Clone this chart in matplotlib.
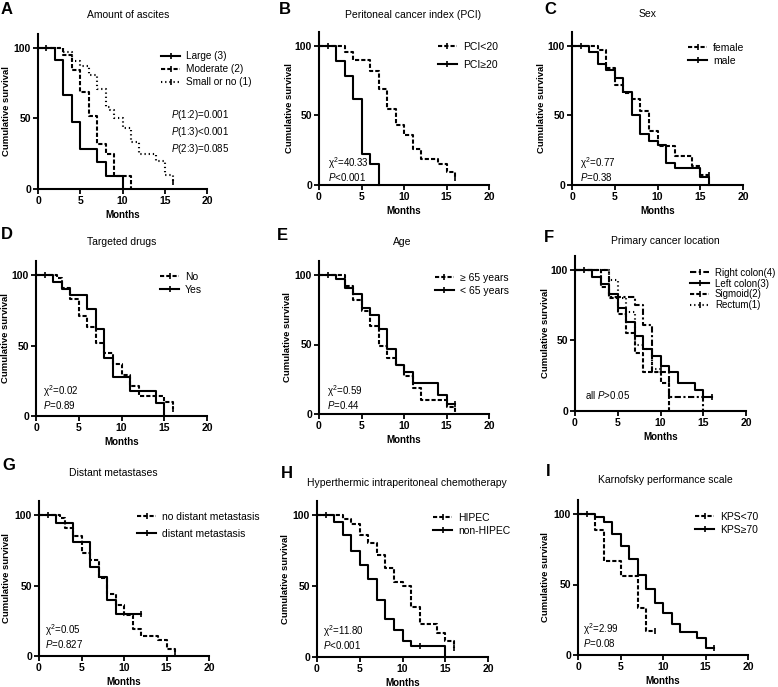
import numpy as np
import matplotlib
matplotlib.use("Agg")
from matplotlib import pyplot as plt
from matplotlib.lines import Line2D

plt.rcParams['font.family'] = ['Liberation Sans', 'DejaVu Sans']
plt.rcParams['mathtext.fontset'] = 'custom'
plt.rcParams['mathtext.rm'] = 'Liberation Sans'
plt.rcParams['mathtext.it'] = 'Liberation Sans:italic'

W, H = 778, 687

# ---- data (months, cumulative survival %) ----
A_LARGE_T = [0, 2, 3, 4, 5, 7, 8, 10]
A_LARGE_S = [100, 91.7, 66.7, 47.6, 28.6, 19.0, 9.5, 0]
A_MOD_T = [0, 3, 4, 5, 6, 7, 8, 9, 11]
A_MOD_S = [100, 95, 84.6, 68.5, 51.5, 32, 25, 9, 0]
A_SMALL_T = [0, 3, 4, 5, 6, 7, 8, 8.5, 9, 10, 11, 12, 14, 15, 16]
A_SMALL_S = [100, 97, 91, 87.5, 81, 71, 58, 56, 50, 43, 33, 25, 20, 10, 5]

B_LO_T = [0, 3, 4, 6, 7, 8, 9, 10, 11, 12, 14, 15, 16]
B_LO_S = [100, 96, 90, 82, 69, 55, 43, 36, 26, 19, 15, 9, 5]
B_HI_T = [0, 2, 3, 4, 5, 6, 7]
B_HI_S = [100, 89, 78.5, 62, 22.5, 15, 0]

C_FEMALE_T = [0, 3, 4, 5, 6, 7, 8, 9, 10, 12, 14, 15, 16]
C_FEMALE_S = [100, 97, 84, 72, 66, 62, 53, 39, 28, 21, 14, 7, 7]
C_MALE_T = [0, 2, 3, 4, 5, 6, 7, 8, 9, 10, 11, 12, 15, 16]
C_MALE_S = [100, 96, 87, 83, 77, 67, 50, 37, 32, 29, 16, 12, 6, 0]

D_NO_T = [0, 2.5, 3, 4, 5, 6, 7, 8, 9, 10, 11, 12, 15, 16]
D_NO_S = [100, 98, 91, 83, 71, 63, 52, 45, 37, 29, 21, 14, 10, 5]
D_YES_T = [0, 2, 3, 4, 6, 7, 8, 9, 11, 14, 15]
D_YES_S = [100, 95, 90, 86, 76, 62, 41, 28, 18, 9, 0]

E_GE65_T = [0, 3, 4, 5, 6, 7, 8, 9, 10, 11, 12, 15, 16]
E_GE65_S = [100, 92, 82, 74, 63, 49, 40, 35, 27, 19, 10, 5, 0]
E_LT65_T = [0, 2, 3, 4, 5, 6, 7, 8, 9, 10, 11, 14, 15, 16]
E_LT65_S = [100, 97, 91, 86, 76, 71, 61, 47, 35, 30, 22, 14, 7, 7]

F_RIGHT_T = [0, 4, 7, 8, 9, 11, 15]
F_RIGHT_S = [100, 81, 75, 61, 28, 10, 0]
F_LEFT_T = [0, 2, 3, 4, 5, 6, 7, 8, 9, 10, 11, 12, 14, 15, 16]
F_LEFT_S = [100, 95, 90, 83, 73, 63, 53, 44, 39, 32, 28, 20, 15, 10, 10]
F_SIG_T = [0, 3, 4, 5, 6, 7, 8, 10, 11]
F_SIG_S = [100, 88, 80, 69, 55, 41, 28, 20, 0]
F_RECT_T = [0, 4, 5, 6, 7, 8, 9, 10]
F_RECT_S = [100, 93, 80, 70, 47, 44, 30, 30]

G_NODM_T = [0, 2.5, 3, 4, 5, 6, 7, 8, 9, 10, 11, 12, 14, 15, 16]
G_NODM_S = [100, 98, 91, 85, 73, 68, 55, 44, 36, 29, 19, 14, 11, 5, 3]
G_DM_T = [0, 2, 4, 6, 7, 8, 9, 12]
G_DM_S = [100, 94, 81, 63, 56, 40, 30, 30]

H_HIPEC_T = [0, 3, 4, 5, 6, 7, 8, 9, 10, 11, 12, 14, 15, 16]
H_HIPEC_S = [100, 97, 94, 86, 80, 72, 63, 53, 50, 35, 23, 17, 11, 6]
H_NON_T = [0, 2, 3, 4, 5, 6, 7, 8, 9, 10, 11, 15]
H_NON_S = [100, 95, 86, 75, 65, 55, 40, 27, 19, 11, 8, 0]

I_LO_T = [0, 2, 3, 5, 7, 8, 9]
I_LO_S = [100, 89, 67, 56, 33, 17, 17]
I_HI_T = [0, 2, 3, 4, 5, 6, 7, 8, 9, 10, 11, 12, 14, 15, 16]
I_HI_S = [100, 98, 94, 86, 77, 68, 57, 47, 37, 30, 22, 16, 12, 5, 5]

DASH = (0, (2, 1))
DOT = (0, (0.6, 1.4))
DASHDOT = (0, (3, 1.2, 1, 1.2))
SOLID = '-'

# panel: letter, title, series [(t, s, style, label, censored times)], note lines
PANELS = [
    dict(letter='A', title='Amount of ascites',
         series=[(A_LARGE_T, A_LARGE_S, SOLID, 'Large (3)', []),
                 (A_MOD_T, A_MOD_S, DASH, 'Moderate (2)', []),
                 (A_SMALL_T, A_SMALL_S, DOT, 'Small or no (1)', [1, 16])],
         notes=['$\\mathit{P}$(1:2)=0.001', '$\\mathit{P}$(1:3)<0.001', '$\\mathit{P}$(2:3)=0.085']),
    dict(letter='B', title='Peritoneal cancer index (PCI)',
         series=[(B_LO_T, B_LO_S, DASH, 'PCI<20', [1, 16]),
                 (B_HI_T, B_HI_S, SOLID, 'PCI≥20', [])],
         notes=['χ$^{2}$=40.33', '$\\mathit{P}$<0.001']),
    dict(letter='C', title='Sex',
         series=[(C_FEMALE_T, C_FEMALE_S, DASH, 'female', [16]),
                 (C_MALE_T, C_MALE_S, SOLID, 'male', [1])],
         notes=['χ$^{2}$=0.77', '$\\mathit{P}$=0.38']),
    dict(letter='D', title='Targeted drugs',
         series=[(D_NO_T, D_NO_S, DASH, 'No', [16]),
                 (D_YES_T, D_YES_S, SOLID, 'Yes', [1])],
         notes=['χ$^{2}$=0.02', '$\\mathit{P}$=0.89']),
    dict(letter='E', title='Age',
         series=[(E_GE65_T, E_GE65_S, DASH, '≥ 65 years', []),
                 (E_LT65_T, E_LT65_S, SOLID, '< 65 years', [1, 16])],
         notes=['χ$^{2}$=0.59', '$\\mathit{P}$=0.44']),
    dict(letter='F', title='Primary cancer location',
         series=[(F_RIGHT_T, F_RIGHT_S, DASHDOT, 'Right colon(4)', []),
                 (F_LEFT_T, F_LEFT_S, SOLID, 'Left colon(3)', [1, 16]),
                 (F_SIG_T, F_SIG_S, DASH, 'Sigmoid(2)', []),
                 (F_RECT_T, F_RECT_S, DOT, 'Rectum(1)', [10])],
         notes=['all $\\mathit{P}$>0.05']),
    dict(letter='G', title='Distant metastases',
         series=[(G_NODM_T, G_NODM_S, DASH, 'no distant metastasis', [16]),
                 (G_DM_T, G_DM_S, SOLID, 'distant metastasis', [1, 12])],
         notes=['χ$^{2}$=0.05', '$\\mathit{P}$=0.827']),
    dict(letter='H', title='Hyperthermic intraperitoneal chemotherapy',
         series=[(H_HIPEC_T, H_HIPEC_S, DASH, 'HIPEC', [16]),
                 (H_NON_T, H_NON_S, SOLID, 'non-HIPEC', [1, 12])],
         notes=['χ$^{2}$=11.80', '$\\mathit{P}$<0.001']),
    dict(letter='I', title='Karnofsky performance scale',
         series=[(I_LO_T, I_LO_S, DASH, 'KPS<70', [9]),
                 (I_HI_T, I_HI_S, SOLID, 'KPS≥70', [1, 16])],
         notes=['χ$^{2}$=2.99', '$\\mathit{P}$=0.08']),
]

# layout in pixels: x of 0 and 20 months, y of 0 and 100 %
AX_PX = [(38, 207, 189, 48), (319, 489, 185, 46), (572, 743, 185, 46),
         (36, 207, 416, 275), (319, 489, 414, 275), (575, 746, 411, 270),
         (39, 209, 656, 515), (317, 488, 657, 515), (578, 748, 655, 514)]
YLABEL_X = [7, 290, 541, 6, 288, 545, 7, 285, 545]
LETTER_PX = [(1, 9), (279, 10), (544, 9), (1, 235), (277, 236), (544, 237),
             (2, 466), (281, 473), (546, 471)]
TITLE_PX = [(128, 15), (413, 15), (648, 14), (122, 242), (402, 242), (665, 241),
            (113, 473), (407, 483), (665, 480)]
# legend: line start x, first row y, row spacing, font size
LEG_PX = [(161, 55, 14.5, 7.2), (438, 46, 20, 7.5), (688, 47, 15, 7.5),
          (160, 276, 15, 7.5), (435, 277, 15, 7.5), (690, 271, 12, 7),
          (137, 516, 19, 7.5), (433, 517, 15, 7.5), (695, 516, 15, 7.5)]
# notes: block centre pixel position, line spacing factor
NOTE_PX = [(171, 132, 1.35), (328, 169, 1.0), (580, 169, 1.0), (43, 397, 1.0),
           (327, 397, 1.0), (585, 395, 1.0), (45, 636, 1.05), (323, 637, 1.05),
           (583, 635, 1.05)]

fig = plt.figure(figsize=(W / 100, H / 100), dpi=100)


def step_value(t, s, x):
    i = np.searchsorted(t, x, side='right') - 1
    return s[max(i, 0)]


for k, p in enumerate(PANELS):
    x0, x20, y0, y100 = AX_PX[k]
    h = (y0 - y100) * 1.1
    axw = x20 - x0
    ax = fig.add_axes([x0 / W, 1 - y0 / H, axw / W, h / H])
    handles, labels = [], []
    for t, s, ls, lab, cens in p['series']:
        ax.step(t, s, where='post', color='k', lw=1.5, ls=ls, clip_on=False)
        if cens:
            cy = [step_value(t, s, c) for c in cens]
            ax.plot(cens, cy, ls='none', marker='|', ms=4, mew=1.2, color='k', clip_on=False)
        handles.append(Line2D([], [], color='k', lw=1.5, ls=ls, marker='|', ms=4, mew=1.2))
        labels.append(lab)
    ax.set_xlim(0, 20)
    ax.set_ylim(0, 110)
    ax.set_xticks([0, 5, 10, 15, 20])
    ax.set_yticks([0, 50, 100])
    for sp in ['top', 'right']:
        ax.spines[sp].set_visible(False)
    for sp in ['left', 'bottom']:
        ax.spines[sp].set_linewidth(1.5)
    ax.tick_params(direction='out', length=3.5, width=1.3, labelsize=7.5, pad=1.5)
    for lb in ax.get_xticklabels() + ax.get_yticklabels():
        lb.set_fontweight('bold')
    ax.set_xlabel('Months', fontsize=7, fontweight='bold', labelpad=3)
    ax.set_ylabel('Cumulative survival', fontsize=6.8, fontweight='bold', va='center')
    ax.yaxis.set_label_coords((YLABEL_X[k] - x0) / axw, 0.5)

    # legend
    lx, ly, lsp, lfs = LEG_PX[k]
    n = len(labels)
    mid_y = ly + lsp * (n - 1) / 2
    fs_px = lfs * 100 / 72
    ax.legend(handles, labels, loc='center left',
              bbox_to_anchor=((lx - x0) / axw, (y0 - mid_y) / h),
              frameon=False, fontsize=lfs, borderpad=0, borderaxespad=0,
              handlelength=19 / fs_px, handletextpad=6 / fs_px,
              labelspacing=max(lsp / fs_px - 1.15, 0.05), numpoints=1)

    # notes, one text block per panel
    nx, ny, nls = NOTE_PX[k]
    fig.text(nx / W, 1 - ny / H, '\n'.join(p['notes']), fontsize=7,
             ha='left', va='center', linespacing=nls)

    # letter and title
    lx2, ly2 = LETTER_PX[k]
    fig.text(lx2 / W, 1 - ly2 / H, p['letter'], fontsize=12, fontweight='bold',
             ha='left', va='center')
    tx, ty = TITLE_PX[k]
    fig.text(tx / W, 1 - ty / H, p['title'], fontsize=7.5, ha='center', va='center')

fig.savefig('out.png', dpi=100)
